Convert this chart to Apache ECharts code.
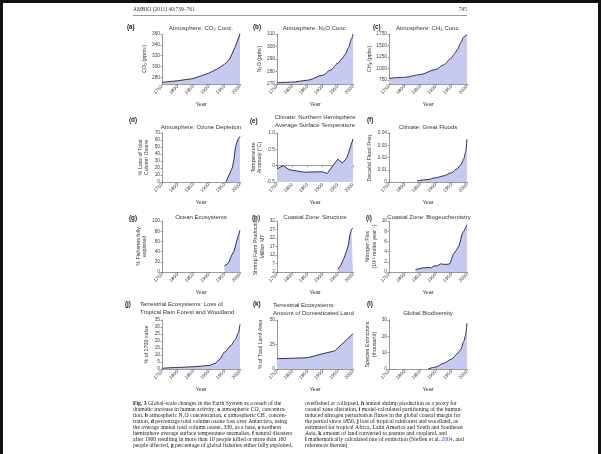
<!DOCTYPE html>
<html><head><meta charset="utf-8">
<script src="https://cdn.jsdelivr.net/npm/echarts@6/dist/echarts.min.js"></script>
<style>html,body{margin:0;padding:0;background:#fff}#c{width:601px;height:454px}</style>
</head><body><div id="c"></div>
<script>
// ---------- data ----------
const yearTicks = [1750, 1800, 1850, 1900, 1950, 2000];
const co2Data = [[1750,271],[1800,274],[1850,278],[1900,288],[1925,295],[1950,304],[1967,314],[1985,337],[2000,360]];
const n2oData = [[1750,271],[1800,271.5],[1850,273],[1900,277],[1925,281],[1950,286.5],[1965,290.5],[1975,294],[1985,299],[1995,306],[2000,310]];
const ch4Data = [[1750,790],[1800,810],[1850,870],[1900,980],[1925,1080],[1950,1230],[1960,1320],[1970,1420],[1980,1560],[1990,1690],[2000,1740]];
const ozoneData = [[1955,0],[1965,10],[1975,20],[1980,30],[1985,48],[1990,57],[1995,62],[2000,65]];
const tempData = [[1750,-0.1],[1770,0.0],[1790,-0.12],[1800,-0.14],[1840,-0.2],[1880,-0.19],[1900,-0.19],[1915,-0.24],[1950,0.2],[1965,0.08],[1980,0.24],[2000,0.82]];
const floodData = [[1840,0.001],[1875,0.002],[1900,0.0035],[1925,0.005],[1950,0.0075],[1970,0.011],[1980,0.014],[1990,0.019],[1995,0.024],[2000,0.035]];
const fishData = [[1950,12],[1955,13],[1960,16],[1965,20],[1970,28],[1975,35],[1980,40],[1985,50],[1990,62],[1995,72],[2000,82]];
const shrimpData = [[1950,3.5],[1955,4.5],[1960,6],[1965,8],[1970,10],[1975,12.5],[1978,13.5],[1980,15],[1985,18],[1990,24],[1995,27],[2000,28]];
const nitroData = [[1835,0.5],[1845,0.6],[1855,0.8],[1865,0.8],[1875,0.9],[1885,0.8],[1895,1.2],[1900,1.4],[1905,1.2],[1915,1.6],[1925,1.5],[1935,1.5],[1945,1.6],[1950,2.4],[1955,3.4],[1965,4.2],[1975,5.2],[1980,6.4],[1985,7.6],[1990,8],[1995,8.6],[2000,9.3]];
const forestData = [[1750,0.5],[1800,1.1],[1850,1.6],[1900,2.5],[1920,4],[1935,7],[1950,12],[1970,16.5],[1985,21],[1995,26],[2000,32]];
const landData = [[1750,10.5],[1800,11],[1850,11.5],[1900,15.5],[1940,18.5],[2000,36]];
const extinctData = [[1875,0],[1900,1.2],[1925,3.5],[1950,6],[1970,9.5],[1980,12],[1990,17],[1995,20.5],[2000,28]];

const tickA = [280,300,320,340,360];
const tickC = [750,1000,1250,1500,1750];
const tickH = [2,7,12,17,22,27,32];

// ---------- layout ----------
const colX = [[162,240],[277,353],[389,467]];
const rowY = [[34,84],[133,182],[221,272],[320,369]];

const panels = [
  {d:co2Data, min:268, max:360, custom:tickA, name:'CO\u2082 (ppmv)', gap:14},
  {d:n2oData, min:270, max:310, interval:10, name:'N\u2082O (ppbv)', gap:14},
  {d:ch4Data, min:665, max:1750, custom:tickC, name:'CH\u2084 (ppbv)', gap:16},
  {d:ozoneData, min:0, max:70, interval:10, name:'% Loss of Total\nColumn Ozone', gap:12},
  {d:tempData, min:-0.5, max:1, interval:0.5, name:'Temperature\nAnomaly (\u00b0C)', gap:14, fmt:v=>v===1?'1.0':String(v)},
  {d:floodData, min:0, max:0.04, interval:0.01, name:'Decadal Flood Freq.', gap:16, fmt:v=>String(+v.toFixed(2))},
  {d:fishData, min:0, max:100, interval:20, name:'% Fisheries fully\nexploited', gap:12},
  {d:shrimpData, min:2, max:32, custom:tickH, name:'Shrimp Farm Production\nMillion MT', gap:10},
  {d:nitroData, min:0, max:10, interval:2, name:'Nitrogen Flux\n(10\u00b9\u00b2 moles year\u207b\u00b9)', gap:8},
  {d:forestData, min:0, max:35, interval:5, name:'% of 1700 value', gap:12},
  {d:landData, min:0, max:50, interval:25, name:'% of Total Land Area', gap:13},
  {d:extinctData, min:0, max:30, interval:10, name:'Species Extinctions\n(thousand)', gap:9}
];
const smoothSet = [0,1,1,0,0,1,0,0,0,1,0,1];

const titles = [
  ['Atmosphere: CO\u2082 Conc.', 201, 28, 'center'],
  ['Atmosphere: N\u2082O Conc.', 315, 28, 'center'],
  ['Atmosphere: CH\u2084 Conc.', 428, 28, 'center'],
  ['Atmosphere: Ozone Depletion', 201, 127.5, 'center'],
  ['Climate: Northern Hemisphere', 315, 117, 'center'],
  ['Average Surface Temperature', 315, 125, 'center'],
  ['Climate: Great Floods', 428, 127.5, 'center'],
  ['Ocean Ecosystems', 201, 217.5, 'center'],
  ['Coastal Zone: Structure', 315, 217.5, 'center'],
  ['Coastal Zone: Biogeochemistry', 429, 217.5, 'center'],
  ['Terrestrial Ecosystems: Loss of', 140, 304, 'left'],
  ['Tropical Rain Forest and Woodland', 140, 312, 'left'],
  ['Terrestrial Ecosystems:', 273, 305, 'left'],
  ['Amount of Domesticated Land', 273, 313.5, 'left'],
  ['Global Biodiversity', 428, 313.5, 'center']
];
const letters = [
  ['(a)',127,27],['(b)',253,27],['(c)',373,27],
  ['(d)',129,120],['(e)',250,121.5],['(f)',367,120],
  ['(g)',129,218],['(h)',252,218],['(i)',366,218],
  ['(j)',125,304],['(k)',253,304],['(l)',367,304]
];
const captionLeft = [
  '{b|Fig. 3} Global-scale changes in the Earth System as a result of the',
  'dramatic increase in human activity: {b|a} atmospheric CO\u2082 concentra-',
  'tion, {b|b} atmospheric N\u2082O concentration, {b|c} atmospheric CH\u2084 concen-',
  'tration, {b|d} percentage total column ozone loss over Antarctica, using',
  'the average annual total column ozone, 330, as a base, {b|e} northern',
  'hemisphere average surface temperature anomalies, {b|f} natural disasters',
  'after 1900 resulting in more than 10 people killed or more than 100',
  'people affected, {b|g} percentage of global fisheries either fully exploited,'
];
const captionRight = [
  'overfished or collapsed, {b|h} annual shrimp production as a proxy for',
  'coastal zone alteration, {b|i} model-calculated partitioning of the human-',
  'induced nitrogen perturbation fluxes in the global coastal margin for',
  'the period since 1850, {b|j} loss of tropical rainforest and woodland, as',
  'estimated for tropical Africa, Latin America and South and Southeast',
  'Asia, {b|k} amount of land converted to pasture and cropland, and',
  '{b|l} mathematically calculated rate of extinction (Steffen et al. {u|2004}, and',
  'references therein)'
];

// ---------- build ----------
const SANS = 'Liberation Sans, Arial, sans-serif';
const SERIF = 'Liberation Serif, Times New Roman, serif';
const grid = [], xAxis = [], yAxis = [], series = [], graphic = [];
panels.forEach((p, i) => {
  const c = colX[i % 3], r = rowY[Math.floor(i / 3)];
  grid.push({left: c[0], top: r[0], width: c[1] - c[0], height: r[1] - r[0], containLabel: false});
  xAxis.push({
    type: 'value', gridIndex: i, min: yearTicks[0], max: yearTicks[yearTicks.length - 1], interval: 50,
    name: 'Year', nameLocation: 'middle', nameGap: 17,
    nameTextStyle: {fontFamily: SANS, fontSize: 5.5, color: '#333'},
    axisLine: {show: true, lineStyle: {color: '#555', width: 0.6}},
    axisTick: {show: true, length: 1.5, lineStyle: {color: '#555', width: 0.6}},
    splitLine: {show: false},
    axisLabel: {rotate: 45, fontFamily: SANS, fontSize: 4.8, color: '#444', margin: 2, formatter: v => String(v)}
  });
  const y = {
    type: 'value', gridIndex: i, min: p.min, max: p.max,
    name: p.name, nameLocation: 'middle', nameGap: p.gap, nameRotate: 90,
    nameTextStyle: {fontFamily: SANS, fontSize: 5.3, color: '#333', lineHeight: 6.5},
    axisLine: {show: true, lineStyle: {color: '#555', width: 0.6}},
    axisTick: {show: true, length: 1.5, lineStyle: {color: '#555', width: 0.6}},
    splitLine: {show: false},
    axisLabel: {fontFamily: SANS, fontSize: 4.8, color: '#444', margin: 2, formatter: p.fmt || (v => String(v))}
  };
  if (p.interval !== undefined) y.interval = p.interval;
  if (p.custom) { y.axisLabel.customValues = p.custom; y.axisTick.customValues = p.custom; }
  yAxis.push(y);
  series.push({
    type: 'line', xAxisIndex: i, yAxisIndex: i, data: p.d,
    showSymbol: false, symbol: 'none', smooth: smoothSet[i] ? 0.3 : false, smoothMonotone: 'x',
    lineStyle: {color: '#1e1e3a', width: 0.9},
    areaStyle: {color: '#c6caf0', opacity: 1, origin: 'start'},
    silent: true, animation: false
  });
});

// frame
graphic.push({type: 'rect', shape: {x: 0, y: 0, width: 601, height: 3}, style: {fill: '#111'}});
graphic.push({type: 'rect', shape: {x: 0, y: 0, width: 3, height: 454}, style: {fill: '#111'}});
graphic.push({type: 'rect', shape: {x: 598, y: 0, width: 3, height: 454}, style: {fill: '#111'}});
// header
graphic.push({type: 'text', x: 133, y: 10, style: {text: 'AMBIO (2011) 40:739\u2013761', font: '5.5px ' + SERIF, fill: '#333', verticalAlign: 'middle'}});
graphic.push({type: 'text', x: 467, y: 10, style: {text: '745', font: '5.5px ' + SERIF, fill: '#333', align: 'right', verticalAlign: 'middle'}});
graphic.push({type: 'line', shape: {x1: 133, y1: 15.5, x2: 467, y2: 15.5}, style: {stroke: '#999', lineWidth: 1}});

titles.forEach(t => graphic.push({type: 'text', x: t[1], y: t[2], style: {text: t[0], font: '6px ' + SANS, fill: '#333', align: t[3], verticalAlign: 'middle'}}));
letters.forEach(t => graphic.push({type: 'text', x: t[1], y: t[2], style: {text: t[0], font: 'bold 6.3px ' + SANS, fill: '#222', verticalAlign: 'middle'}}));

const CAPFS = 5.7;
const rich = {b: {fontWeight: 'bold', fontFamily: SERIF, fontSize: CAPFS, fill: '#222'}, u: {fontFamily: SERIF, fontSize: CAPFS, fill: '#3a5ab0'}};
function cap(lines, x) {
  lines.forEach((l, k) => graphic.push({type: 'text', x: x, y: 404 + k * 5.9,
    style: {text: l, fontFamily: SERIF, fontSize: CAPFS, fill: '#222', verticalAlign: 'middle', rich: rich}}));
}
cap(captionLeft, 133);
cap(captionRight, 305);

const chart = echarts.init(document.getElementById('c'), null, {renderer: 'canvas'});
chart.setOption({backgroundColor: '#fff', animation: false, grid, xAxis, yAxis, series, graphic});
</script></body></html>
